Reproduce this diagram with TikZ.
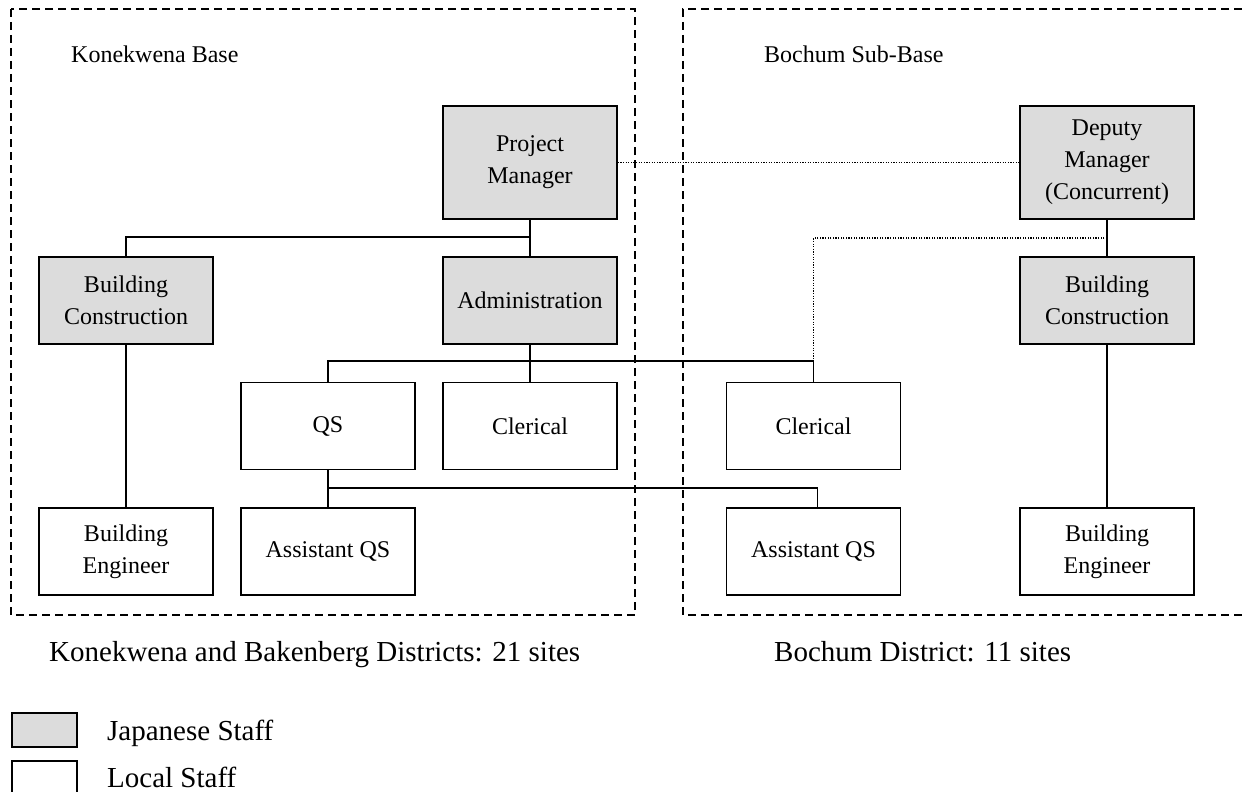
\documentclass[tikz,border=0pt]{standalone}
\usepackage{fontspec}
\setmainfont{Liberation Serif}
\definecolor{jpgrey}{RGB}{220,220,220}
\begin{document}
\begin{tikzpicture}[x=1pt,y=-1pt,
  staff/.style={draw=black, line width=1.7pt, minimum width=174pt, minimum height=87pt,
    inner sep=0pt, align=center, font=\fontsize{24}{32}\selectfont},
  jp/.style={staff, fill=jpgrey},
  local/.style={staff, fill=white},
  keybox/.style={draw=black, line width=1.7pt, minimum width=65pt, minimum height=34pt, inner sep=0pt},
  link/.style={line width=1.3pt},
  liaison/.style={line width=1.3pt, dash pattern=on 1.2pt off 1.4pt},
  region/.style={line width=1.3pt, dash pattern=on 8pt off 5pt},
  caption/.style={anchor=base west, inner sep=0pt, font=\fontsize{29}{34}\selectfont},
  baselabel/.style={anchor=base west, inner sep=0pt, font=\fontsize{24}{28}\selectfont}
]
\useasboundingbox (0,0) rectangle (1242,792);

% dashed outlines of the two bases
\draw[region] (11,9) rectangle (635,615);
\draw[region] (1242,9) -- (683,9) -- (683,615) -- (1242,615);

\node[baselabel] (kb) at (71,63) {Konekwena Base};
\node[baselabel] (bsb) at (764,63) {Bochum Sub-Base};

% Konekwena base staff
\node[jp, minimum height=113pt] (pm) at (530,162.5) {Project\\Manager};
\node[jp] (bc1) at (126,300.5) {Building\\Construction};
\node[jp] (adm) at (530,300.5) {Administration};
\node[local] (qs) at (328,426) {QS};
\node[local] (cl1) at (530,426) {Clerical};
\node[local] (be1) at (126,551.5) {Building\\Engineer};
\node[local] (aqs1) at (328,551.5) {Assistant QS};

% Bochum sub-base staff
\node[jp, minimum height=113pt] (dm) at (1107,162.5) {Deputy\\Manager\\(Concurrent)};
\node[jp] (bc2) at (1107,300.5) {Building\\Construction};
\node[local] (cl2) at (813.5,426) {Clerical};
\node[local] (aqs2) at (813.5,551.5) {Assistant QS};
\node[local] (be2) at (1107,551.5) {Building\\Engineer};

% reporting lines
\coordinate (j1) at (530,237);
\coordinate (j2) at (530,361);
\coordinate (j3) at (328,488);
\coordinate (j4) at (1107,238);
\draw[link] (pm.south) -- (adm.north);
\draw[link] (j1) -| (bc1.north);
\draw[link] (bc1.south) -- (be1.north);
\draw[link] (adm.south) -- (cl1.north);
\draw[link] (qs.north) |- (cl2.north |- j2) -- (cl2.north);
\draw[link] (qs.south) -- (aqs1.north);
\draw[link] (j3) -| ([xshift=4pt]aqs2.north);
\draw[link] (dm.south) -- (bc2.north);
\draw[link] (bc2.south) -- (be2.north);

% liaison lines
\draw[liaison] (pm.east) -- (dm.west);
\draw[liaison] (j4) -| (cl2.north |- j2);

% district captions
\node[caption] (kbd) at (49,661) {Konekwena and Bakenberg Districts: 21 sites};
\node[caption] (bd) at (774,661) {Bochum District: 11 sites};

% legend
\node[keybox, fill=jpgrey] (keyjp) at (44.5,730) {};
\node[caption] (keyjptext) at (107,740) {Japanese Staff};
\node[keybox, fill=white] (keyloc) at (44.5,778) {};
\node[caption] (keyloctext) at (107,787) {Local Staff};
\end{tikzpicture}
\end{document}
